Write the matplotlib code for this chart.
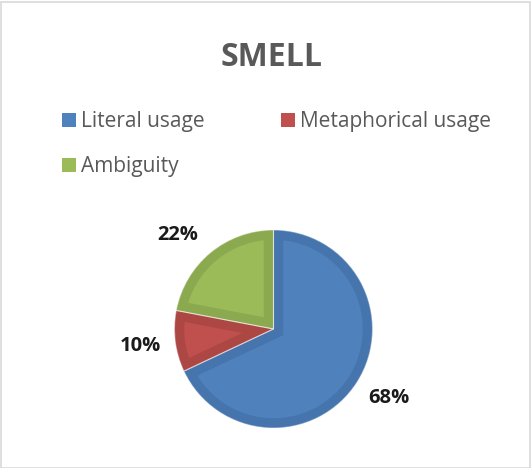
import numpy as np
import matplotlib.pyplot as plt
from matplotlib.patches import Rectangle

categories = ["Literal usage", "Metaphorical usage", "Ambiguity"]
shares = [68, 10, 22]
face_colors = ["#4F81BD", "#C0504D", "#9BBB59"]
rim_colors = ["#4674AC", "#AC4744", "#8BA94F"]

W, H = 531, 468
fig = plt.figure(figsize=(W / 100, H / 100), dpi=100)
fig.patches.append(Rectangle((0.5 / W, 0.5 / H), 1 - 2 / W, 1 - 2 / H,
                             transform=fig.transFigure, fill=False,
                             edgecolor="#D9D9D9", linewidth=1.2))

font = "Open Sans"
fig.text(272 / W, 1 - 57 / H, "SMELL", ha="center", va="center",
         fontsize=23, fontweight="bold", color="#595959", family=font)

# legend entries (pixel positions of the colour squares)
legend_pos = [(62, 120), (281, 120), (62, 165)]
for (lx, ly), name, c in zip(legend_pos, categories, face_colors):
    fig.patches.append(Rectangle((lx / W, 1 - (ly + 7) / H), 14 / W, 14 / H,
                                 transform=fig.transFigure, facecolor=c,
                                 edgecolor="none"))
    fig.text((lx + 19) / W, 1 - (ly + 1) / H, name, ha="left", va="center",
             fontsize=15, color="#595959", family=font)

# pie: centre (273.5, 329) px, radius 99 px
cx, cy, r = 273.5, 329, 99
aw = 300
ax = fig.add_axes([(cx - aw / 2) / W, 1 - (cy + aw / 2) / H, aw / W, aw / H])

wedges, _ = ax.pie(shares, colors=face_colors, startangle=90, counterclock=False,
                   radius=1, wedgeprops=dict(linewidth=0))
# darker bevel drawn as an inner stroke
for w, rc in zip(wedges, rim_colors):
    w.set_edgecolor(rc)
    w.set_linewidth(14)
    w.set_clip_on(True)
    w.set_clip_path(w)
# thin light seams between slices
ax.pie(shares, colors=["none"] * 3, startangle=90, counterclock=False,
       radius=1, wedgeprops=dict(linewidth=0.8, edgecolor=(1, 1, 1, 0.45)))

lim = aw / 2 / r
ax.set_xlim(-lim, lim)
ax.set_ylim(-lim, lim)
ax.axis("off")

# percentage labels outside the slices
label_shift = [1.5, 0, 6]
for w, v, s in zip(wedges, shares, label_shift):
    mid = np.deg2rad((w.theta1 + w.theta2) / 2 + s)
    ax.text(1.36 * np.cos(mid), 1.36 * np.sin(mid), f"{v}%", ha="center",
            va="center", fontsize=14.5, fontweight="bold", color="#1A1A1A",
            family=font)

fig.savefig("out.png", dpi=100)
